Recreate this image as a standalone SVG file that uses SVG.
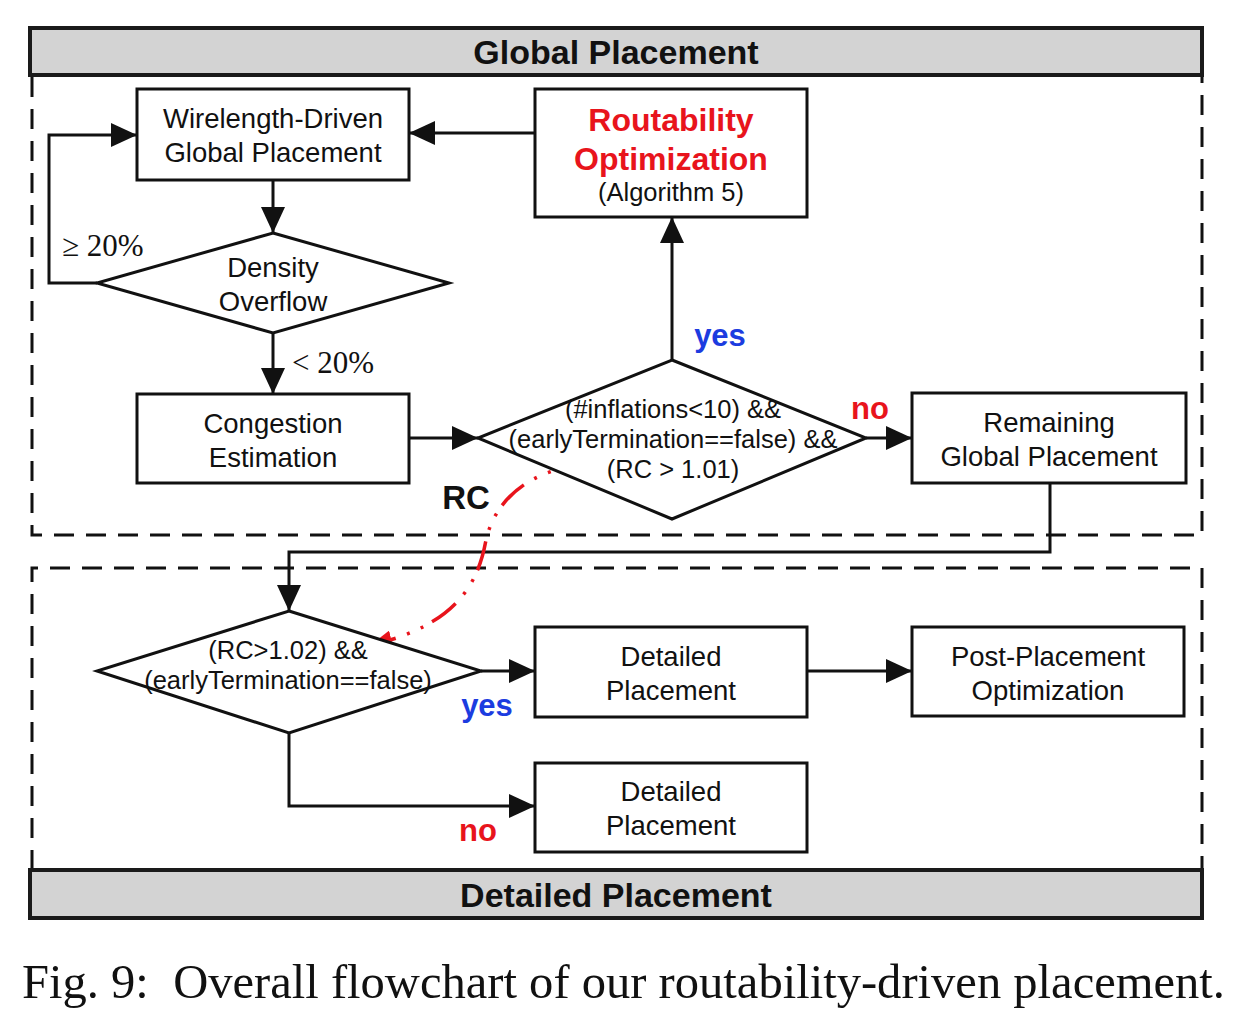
<svg xmlns="http://www.w3.org/2000/svg" width="1250" height="1032" viewBox="0 0 1250 1032">
<style>
.box{fill:#fff;stroke:#111;stroke-width:3}
.ban{fill:#d3d3d3;stroke:#1a1a1a;stroke-width:4}
.dash{fill:none;stroke:#111;stroke-width:3;stroke-dasharray:20 12}
.ln{fill:none;stroke:#111;stroke-width:3}
.t{font-family:"Liberation Sans",Arial,sans-serif;font-size:27.5px;fill:#111;text-anchor:middle}
.s{font-family:"Liberation Sans",Arial,sans-serif;font-size:25.5px;fill:#111;text-anchor:middle}
.b{font-family:"Liberation Sans",Arial,sans-serif;font-weight:bold;text-anchor:middle}
.serif{font-family:"Liberation Serif","Times New Roman",serif;fill:#111}
</style>
<defs>
<marker id="ah" markerUnits="userSpaceOnUse" markerWidth="26" markerHeight="24" refX="26" refY="12" orient="auto">
<path d="M0,0 L26,12 L0,24 z" fill="#111"/>
</marker>
<marker id="ahr" markerUnits="userSpaceOnUse" markerWidth="22" markerHeight="20" refX="20" refY="10" orient="auto">
<path d="M0,0 L22,10 L0,20 z" fill="#e8141c"/>
</marker>
</defs>
<rect width="1250" height="1032" fill="#fff"/>

<g id="global-region">
<rect class="ban" x="30" y="28" width="1172" height="47"/>
<text class="b" x="616" y="64" font-size="34" fill="#111">Global Placement</text>
<path class="dash" d="M32,77 V535 H1202 V77"/>
</g>
<g id="detailed-region">
<path class="dash" d="M32,870 V568 H1202 V870"/>
<rect class="ban" x="30" y="870" width="1172" height="48"/>
<text class="b" x="616" y="907" font-size="34" fill="#111">Detailed Placement</text>
</g>

<g id="connectors">
<line class="ln" x1="273" y1="180" x2="273" y2="233" marker-end="url(#ah)"/>
<polyline class="ln" points="97,283 49,283 49,135 137,135" marker-end="url(#ah)"/>
<line class="ln" x1="273" y1="333" x2="273" y2="394" marker-end="url(#ah)"/>
<line class="ln" x1="409" y1="438" x2="478" y2="438" marker-end="url(#ah)"/>
<line class="ln" x1="672" y1="360" x2="672" y2="217" marker-end="url(#ah)"/>
<line class="ln" x1="866" y1="438" x2="912" y2="438" marker-end="url(#ah)"/>
<line class="ln" x1="535" y1="133" x2="409" y2="133" marker-end="url(#ah)"/>
<polyline class="ln" points="1050,483 1050,552 289,552 289,611" marker-end="url(#ah)"/>
<line class="ln" x1="481" y1="671" x2="535" y2="671" marker-end="url(#ah)"/>
<polyline class="ln" points="289,733 289,806 535,806" marker-end="url(#ah)"/>
<line class="ln" x1="807" y1="671" x2="912" y2="671" marker-end="url(#ah)"/>
<path d="M590,464 C530,468 495,500 486,540 C478,585 455,625 372,645" fill="none" stroke="#e8141c" stroke-width="3.5" stroke-dasharray="30 10 3 12 3 12" marker-end="url(#ahr)"/>
<text class="serif" x="62" y="256" font-size="31">≥ 20%</text>
<text class="serif" x="292" y="373" font-size="31">&lt; 20%</text>
<text class="b" x="720" y="346" font-size="31" fill="#1c3ce0">yes</text>
<text class="b" x="870" y="419" font-size="31" fill="#e8141c">no</text>
<text class="b" x="466" y="509" font-size="33" fill="#111">RC</text>
<text class="b" x="487" y="716" font-size="31" fill="#1c3ce0">yes</text>
<text class="b" x="478" y="841" font-size="31" fill="#e8141c">no</text>
</g>

<g id="wirelength-gp">
<rect class="box" x="137" y="89" width="272" height="91"/>
<text class="t" x="273" y="128">Wirelength-Driven</text>
<text class="t" x="273" y="162">Global Placement</text>
</g>
<g id="routability-opt">
<rect class="box" x="535" y="89" width="272" height="128"/>
<text class="b" x="671" y="131" font-size="32" fill="#e8141c">Routability</text>
<text class="b" x="671" y="170" font-size="32" fill="#e8141c">Optimization</text>
<text class="s" x="671" y="201" font-size="24">(Algorithm 5)</text>
</g>
<g id="density-overflow">
<polygon class="box" points="273,233 449,283 273,333 97,283"/>
<text class="t" x="273" y="277">Density</text>
<text class="t" x="273" y="311">Overflow</text>
</g>
<g id="congestion-est">
<rect class="box" x="137" y="394" width="272" height="89"/>
<text class="t" x="273" y="433">Congestion</text>
<text class="t" x="273" y="467">Estimation</text>
</g>
<g id="condition-gp">
<polygon class="box" points="672,360 866,438 672,519 478,438"/>
<text class="s" x="673" y="418">(#inflations&lt;10) &amp;&amp;</text>
<text class="s" x="673" y="448">(earlyTermination==false) &amp;&amp;</text>
<text class="s" x="673" y="478">(RC &gt; 1.01)</text>
</g>
<g id="remaining-gp">
<rect class="box" x="912" y="393" width="274" height="90"/>
<text class="t" x="1049" y="432">Remaining</text>
<text class="t" x="1049" y="466">Global Placement</text>
</g>
<g id="condition-dp">
<polygon class="box" points="289,611 481,671 289,733 97,671"/>
<text class="s" x="288" y="659">(RC&gt;1.02) &amp;&amp;</text>
<text class="s" x="288" y="689">(earlyTermination==false)</text>
</g>
<g id="detailed-1">
<rect class="box" x="535" y="627" width="272" height="90"/>
<text class="t" x="671" y="666">Detailed</text>
<text class="t" x="671" y="700">Placement</text>
</g>
<g id="post-placement">
<rect class="box" x="912" y="627" width="272" height="89"/>
<text class="t" x="1048" y="666">Post-Placement</text>
<text class="t" x="1048" y="700">Optimization</text>
</g>
<g id="detailed-2">
<rect class="box" x="535" y="763" width="272" height="89"/>
<text class="t" x="671" y="801">Detailed</text>
<text class="t" x="671" y="835">Placement</text>
</g>

<text class="serif" x="22" y="998" font-size="48" textLength="1203" lengthAdjust="spacingAndGlyphs" style="white-space:pre">Fig. 9:  Overall flowchart of our routability-driven placement.</text>
</svg>
